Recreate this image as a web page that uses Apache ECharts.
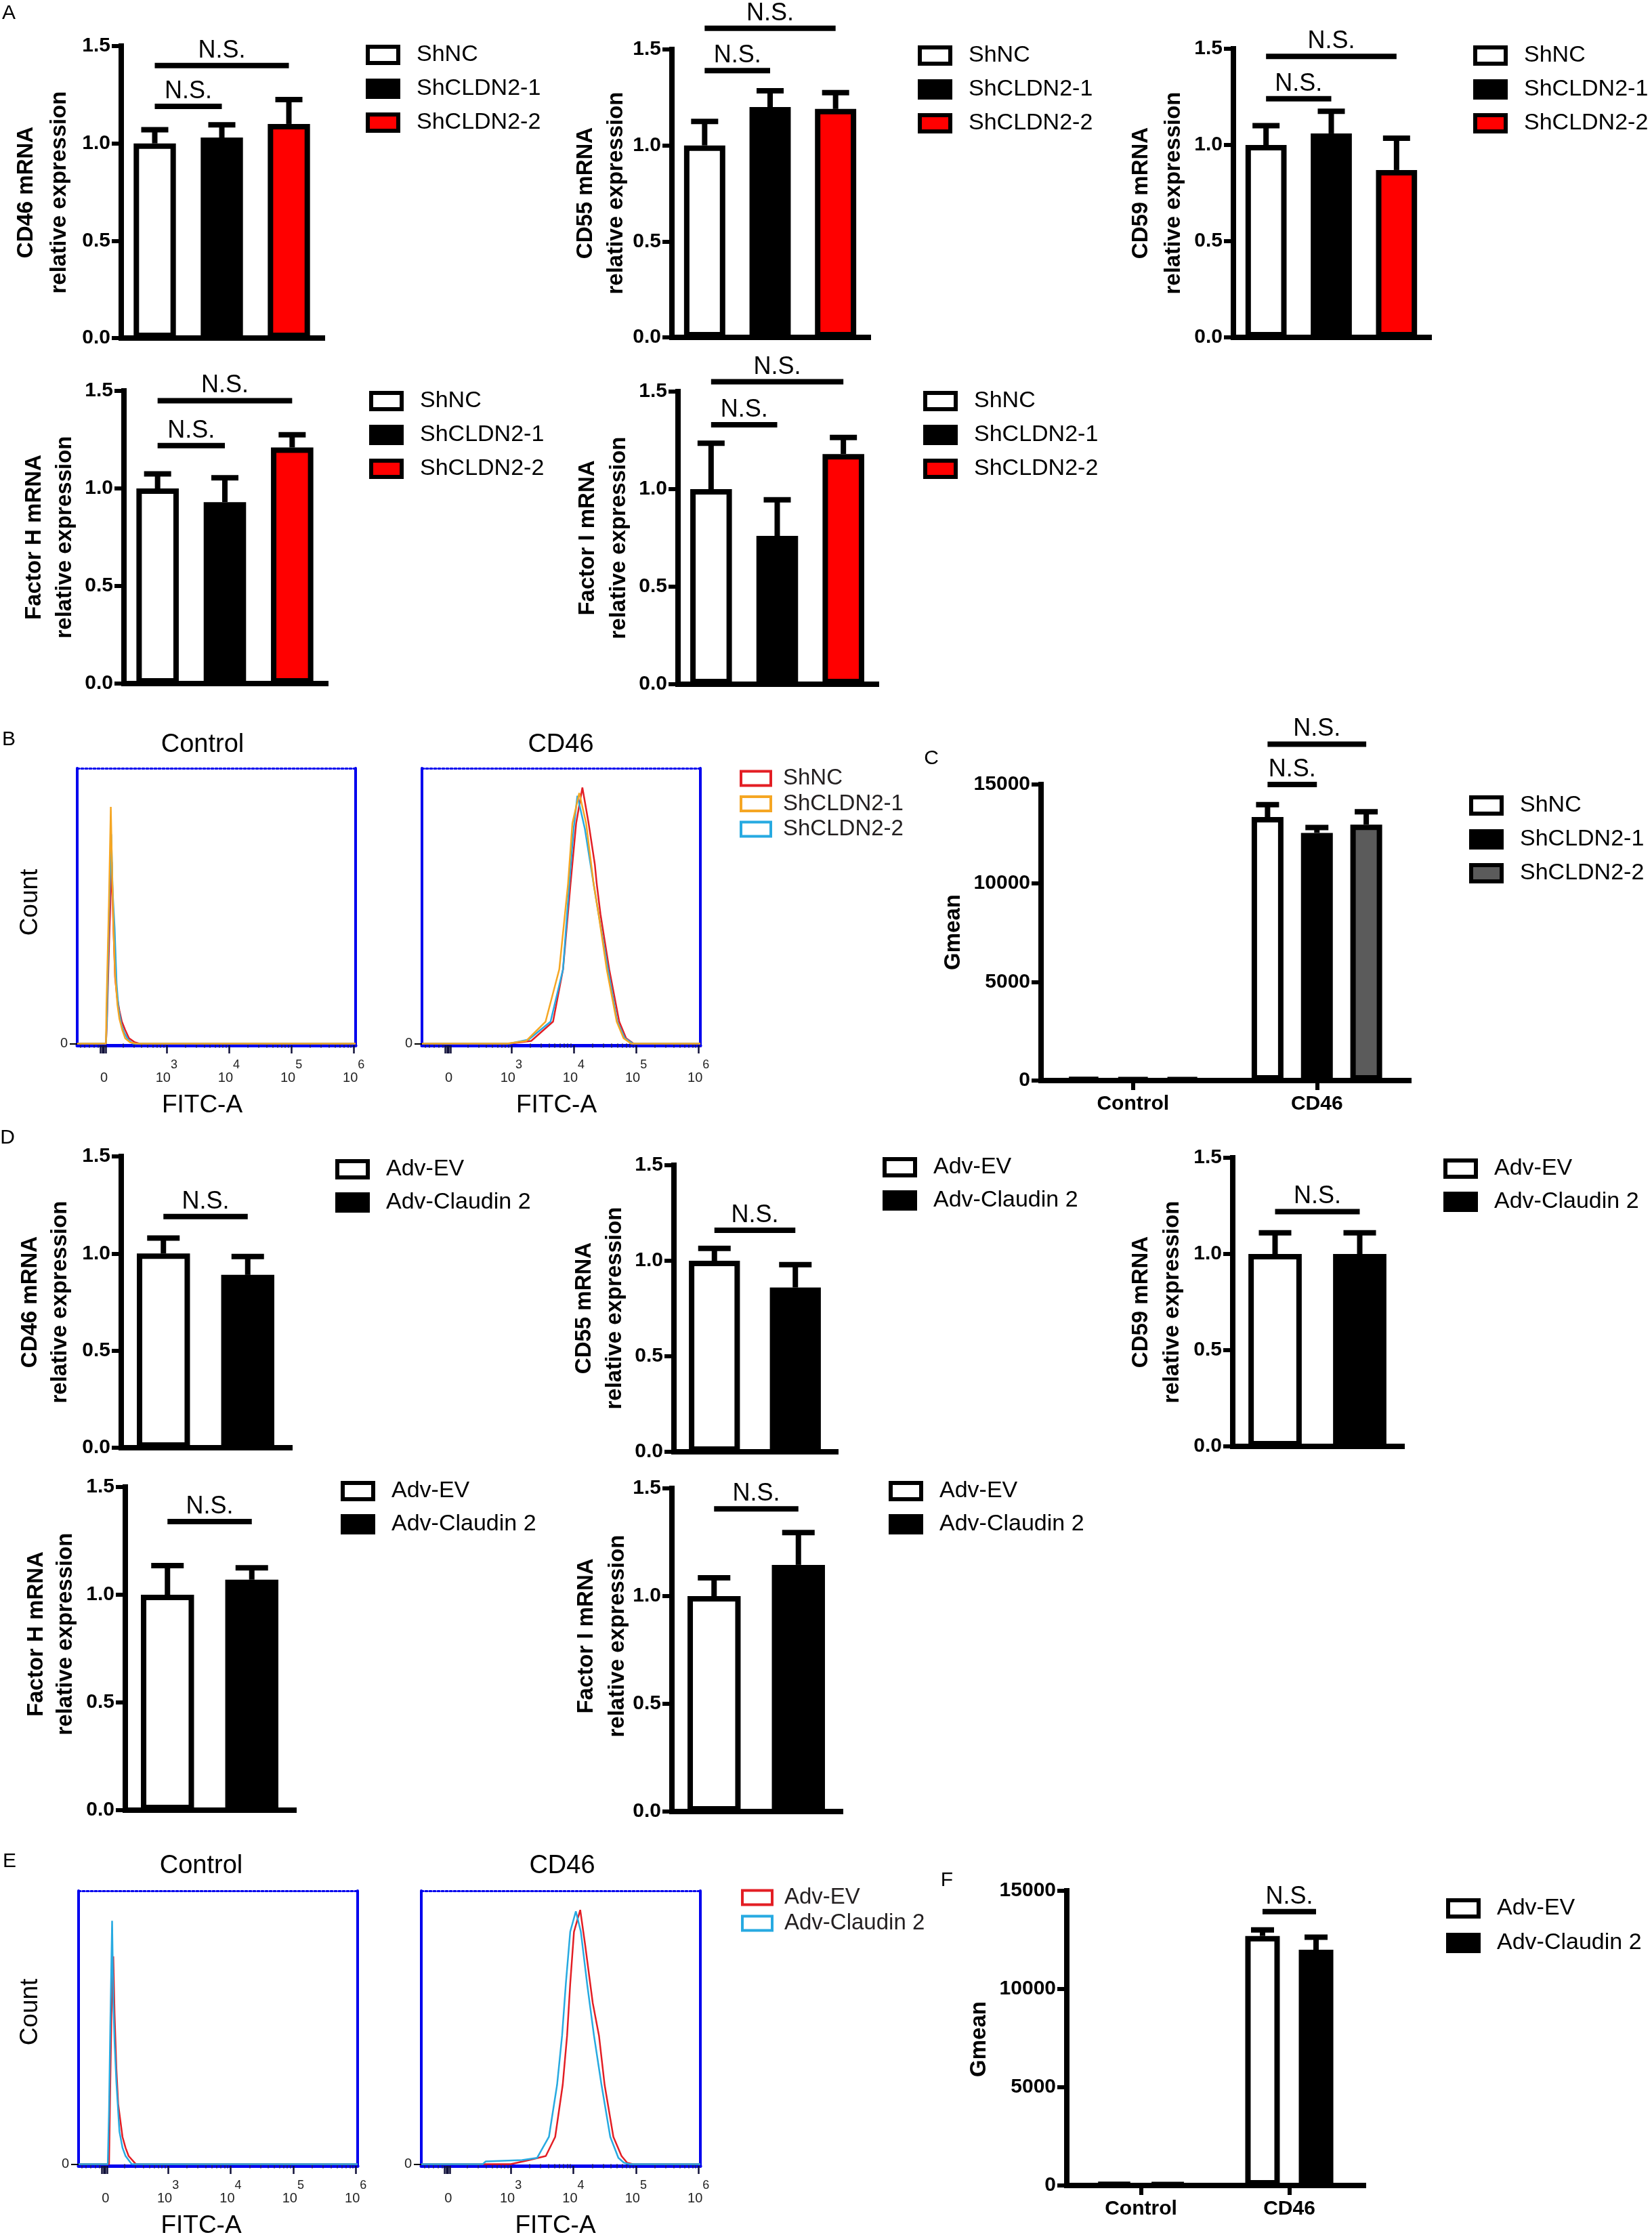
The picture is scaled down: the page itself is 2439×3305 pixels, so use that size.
<!DOCTYPE html>
<html><head><meta charset="utf-8">
<script src="https://cdn.jsdelivr.net/npm/echarts@6/dist/echarts.min.js"></script>
<style>html,body{margin:0;padding:0;background:#fff}#c{width:2439px;height:3305px}</style>
</head><body><div id="c"></div>
<script>
// ================= DATA =================
const shGroups = ['ShNC', 'ShCLDN2-1', 'ShCLDN2-2'];
const advGroups = ['Adv-EV', 'Adv-Claudin 2'];
const gmeanCats = ['Control', 'CD46'];
const relTicks = [0, 0.5, 1.0, 1.5];
const gmeanTicks = [0, 5000, 10000, 15000];
// flow x axis in display decades: 0 -> "0", 1 -> 10^3, 2 -> 10^4 ...
const flowTickPos = [0, 1, 2, 3, 4];
const flowTickBase = ['0', '10', '10', '10', '10'];
const flowTickExp = ['', '3', '4', '5', '6'];

// Panel A (mean, SEM); N.S. brackets [fromBar, toBar, height]
const aCD46Mean = [1.00, 1.03, 1.10], aCD46Sem = [0.07, 0.065, 0.125], aCD46NS = [[0, 1, 1.19], [0, 2, 1.40]];
const aCD55Mean = [1.00, 1.20, 1.19], aCD55Sem = [0.125, 0.085, 0.085], aCD55NS = [[0, 1, 1.39], [0, 2, 1.61]];
const aCD59Mean = [1.00, 1.06, 0.87], aCD59Sem = [0.10, 0.115, 0.165], aCD59NS = [[0, 1, 1.24], [0, 2, 1.46]];
const aFHMean = [1.00, 0.93, 1.21], aFHSem = [0.075, 0.125, 0.065], aFHNS = [[0, 1, 1.22], [0, 2, 1.45]];
const aFIMean = [1.00, 0.76, 1.18], aFISem = [0.235, 0.185, 0.085], aFINS = [[0, 1, 1.33], [0, 2, 1.55]];
// Panel D
const dCD46Mean = [1.00, 0.89], dCD46Sem = [0.08, 0.095], dCD46NS = [[0, 1, 1.19]];
const dCD55Mean = [1.00, 0.86], dCD55Sem = [0.065, 0.12], dCD55NS = [[0, 1, 1.16]];
const dCD59Mean = [1.00, 1.00], dCD59Sem = [0.11, 0.11], dCD59NS = [[0, 1, 1.22]];
const dFHMean = [1.00, 1.07], dFHSem = [0.135, 0.055], dFHNS = [[0, 1, 1.34]];
const dFIMean = [1.00, 1.145], dFISem = [0.085, 0.15], dFINS = [[0, 1, 1.405]];
// Panel C: Gmean [Control, CD46]
const cShNC = [120, 13350], cShNCSem = [0, 630];
const cSh1 = [110, 12550], cSh1Sem = [0, 270];
const cSh2 = [100, 12970], cSh2Sem = [0, 650];
const cNS = [[1, 0, 1, 15000], [1, 0, 2, 17040]]; // [category, fromBar, toBar, height]
// Panel F
const fEV = [120, 12700], fEVSem = [0, 310];
const fCl = [110, 12000], fClSem = [0, 640];
const fNS = [[1, 0, 1, 13940]];

// Flow histograms: [display decade, % of max]
const bCtrlShNC = [[-0.43,0],[0.031,0],[0.046,8],[0.085,40],[0.123,66],[0.146,45],[0.177,24],[0.208,17],[0.246,12],[0.285,8],[0.338,5],[0.4,2],[0.492,0.5],[0.569,0],[4.03,0]];
const bCtrlSh1 = [[-0.43,0],[0.031,0],[0.038,13],[0.077,50],[0.108,86],[0.131,60],[0.154,40],[0.177,25],[0.215,14],[0.246,9],[0.292,5],[0.338,2],[0.415,0.5],[0.515,0],[4.03,0]];
const bCtrlSh2 = [[-0.43,0],[0.031,0],[0.046,10],[0.077,45],[0.115,76],[0.138,55],[0.169,42],[0.2,22],[0.231,13],[0.277,7],[0.323,4],[0.385,1.5],[0.462,0],[4.03,0]];
const bCD46ShNC = [[-0.43,0],[0.97,0],[1.32,1],[1.67,8],[1.83,27],[1.95,58],[2.04,80],[2.14,93],[2.24,80],[2.34,65],[2.37,58],[2.43,47],[2.57,27],[2.73,8],[2.84,2],[2.96,0],[4.03,0]];
const bCD46Sh1 = [[-0.43,0],[0.93,0],[1.24,1],[1.55,8],[1.77,27],[1.91,58],[1.98,80],[2.09,91],[2.20,80],[2.32,58],[2.40,47],[2.53,27],[2.69,8],[2.80,2],[2.92,0],[4.03,0]];
const bCD46Sh2 = [[-0.43,0],[0.97,0],[1.28,1.5],[1.63,8],[1.83,27],[1.93,58],[2.00,78],[2.06,90],[2.18,78],[2.32,58],[2.40,47],[2.55,27],[2.70,8],[2.82,2],[2.95,0],[4.03,0]];
const eCtrlEV = [[-0.43,0],[0.057,0],[0.077,30],[0.096,55],[0.125,76],[0.145,55],[0.174,35],[0.203,22],[0.272,10],[0.321,6],[0.37,3],[0.487,0],[4.03,0]];
const eCtrlCl = [[-0.43,0],[0.037,0],[0.057,20],[0.077,50],[0.106,89],[0.125,60],[0.145,45],[0.174,30],[0.223,12],[0.272,6],[0.321,3],[0.419,0],[4.03,0]];
const eCD46EV = [[-0.43,0],[1.0,0],[1.27,1.4],[1.56,3],[1.71,10],[1.83,29],[1.90,47],[1.95,66],[2.01,85],[2.11,93],[2.19,80],[2.31,59],[2.41,47],[2.50,29],[2.64,10],[2.77,3],[2.86,0.5],[2.95,0],[4.03,0]];
const eCD46Cl = [[-0.43,0],[0.55,0],[0.6,1],[1.18,1.5],[1.42,2.3],[1.61,10],[1.74,29],[1.82,47],[1.88,66],[1.95,85],[2.04,92.5],[2.12,85],[2.22,66],[2.33,47],[2.45,29],[2.59,10],[2.72,2.3],[2.81,0.5],[2.9,0],[4.03,0]];

// ================= STYLE / LAYOUT =================
const FONT = '"Liberation Sans", Arial, Helvetica, sans-serif';
const BLUE = '#0000ee';
const RED = '#e31e24', ORANGE = '#f5a623', CYAN = '#27aae1';
const FLOW_MIN = -0.43, FLOW_MAX = 4.03;
const flowMajorTicks = [-0.06, -0.03, 0, 0.03, 1, 2, 3, 4];
const flowMinorTicks = [-0.38, -0.31, -0.24, -0.16, -0.1];
[0, 1, 2, 3].forEach(d => { for (let k = 2; k <= 9; k++) flowMinorTicks.push(d + Math.log10(k)); });

const option = {backgroundColor: '#fff', animation: false, grid: [], xAxis: [], yAxis: [], series: [], legend: [], graphic: {elements: []}};

function addGrid(b) { option.grid.push({left: b[0], top: b[2], width: b[1] - b[0], height: b[3] - b[2]}); return option.grid.length - 1; }

function txt(x, y, text, size, o) {
  o = o || {};
  option.graphic.elements.push({type: 'text', x, y, rotation: o.rot ? Math.PI / 2 : 0, silent: true,
    style: {text, fontSize: size, fontWeight: o.bold ? 'bold' : 'normal', fontFamily: FONT, fill: o.color || '#000',
      align: 'center', verticalAlign: 'middle', textAlign: 'center', textVerticalAlign: 'middle'}});
}

function valueAxis(g, ticks, fmt) {
  return {gridIndex: g, type: 'value', min: ticks[0], max: ticks[ticks.length - 1], interval: ticks[1] - ticks[0],
    splitLine: {show: false},
    axisLine: {show: true, onZero: false, lineStyle: {color: '#000', width: 8, cap: 'square'}},
    axisTick: {show: true, length: 14, lineStyle: {color: '#000', width: 6}},
    axisLabel: {show: true, margin: 16, formatter: fmt, fontSize: 30, fontWeight: 'bold', fontFamily: FONT, color: '#000'}};
}

function errSeries(xi, yi, data, cap, offset) {
  return {type: 'custom', xAxisIndex: xi, yAxisIndex: yi, silent: true, clip: false, z: 5, data,
    renderItem(params, api) {
      const cat = api.value(0), m = api.value(1), s = api.value(2);
      if (!(s > 0)) return null;
      const p0 = api.coord([cat, m]), p1 = api.coord([cat, m + s]);
      const x = p0[0] + offset;
      return {type: 'group', children: [
        {type: 'line', shape: {x1: x, y1: p0[1], x2: x, y2: p1[1]}, style: {stroke: '#000', lineWidth: 8}},
        {type: 'line', shape: {x1: x - cap / 2, y1: p1[1], x2: x + cap / 2, y2: p1[1]}, style: {stroke: '#000', lineWidth: 8}}
      ]};
    }};
}

function nsSeries(xi, yi, data, nBars, spacing) {
  return {type: 'custom', xAxisIndex: xi, yAxisIndex: yi, silent: true, clip: false, z: 6, data,
    renderItem(params, api) {
      const y = api.value(4);
      const p1 = api.coord([api.value(0), y]), p2 = api.coord([api.value(2), y]);
      const x1 = p1[0] + (api.value(1) - (nBars - 1) / 2) * spacing;
      const x2 = p2[0] + (api.value(3) - (nBars - 1) / 2) * spacing;
      return {type: 'group', children: [
        {type: 'line', shape: {x1, y1: p1[1], x2, y2: p1[1]}, style: {stroke: '#000', lineWidth: 8}},
        {type: 'text', x: (x1 + x2) / 2, y: p1[1] - 4, style: {text: 'N.S.', fontSize: 36, fontFamily: FONT, fill: '#000',
          align: 'center', verticalAlign: 'bottom', textAlign: 'center', textVerticalAlign: 'bottom'}}
      ]};
    }};
}

function addLegend(names, styles, left, rowCenter, spacing, kind) {
  const k = kind === 'flow'
    ? {w: 44, h: 21, bw: 4, fs: 33, pad: 13, color: '#231f20'}
    : {w: 45, h: 24, bw: 6, fs: 34, pad: 22, color: '#000'};
  option.legend.push({left, top: rowCenter - k.fs / 2, orient: 'vertical', padding: 0, itemGap: spacing - k.fs,
    itemWidth: k.w, itemHeight: k.h, icon: 'rect', selectedMode: false,
    itemStyle: {borderWidth: k.bw},
    textStyle: {fontSize: k.fs, fontFamily: FONT, color: k.color, lineHeight: 30, padding: [0, 0, 0, k.pad]},
    data: names.map((n, i) => ({name: n, icon: 'rect', itemStyle: Object.assign({borderWidth: k.bw}, styles[i])}))});
}

const barStyles = {
  sh: [{color: '#fff', borderColor: '#000'}, {color: '#000', borderColor: '#000'}, {color: '#ff0000', borderColor: '#000'}],
  adv: [{color: '#fff', borderColor: '#000'}, {color: '#000', borderColor: '#000'}],
  shC: [{color: '#fff', borderColor: '#000'}, {color: '#000', borderColor: '#000'}, {color: '#5b5b5b', borderColor: '#000'}],
  flowSh: [{color: '#fff', borderColor: RED}, {color: '#fff', borderColor: ORANGE}, {color: '#fff', borderColor: CYAN}],
  flowAdv: [{color: '#fff', borderColor: RED}, {color: '#fff', borderColor: CYAN}]
};

function relChart(o) {
  const g = addGrid(o.box);
  const xi = option.xAxis.length, yi = option.yAxis.length;
  option.xAxis.push({gridIndex: g, type: 'category', data: o.groups, boundaryGap: true,
    axisLine: {show: true, lineStyle: {color: '#000', width: 8, cap: 'square'}},
    axisTick: {show: false}, axisLabel: {show: false}, splitLine: {show: false}});
  option.yAxis.push(valueAxis(g, relTicks, v => v.toFixed(1)));
  o.groups.forEach((name, i) => option.series.push({type: 'bar', name, xAxisIndex: xi, yAxisIndex: yi,
    barWidth: '63%', barGap: '-100%', silent: true,
    data: o.groups.map((_, j) => j === i ? o.mean[i] : '-'),
    itemStyle: Object.assign({borderWidth: 8}, o.styles[i])}));
  option.series.push(errSeries(xi, yi, o.mean.map((m, i) => [i, m, o.sem[i]]), o.cap, 0));
  option.series.push(nsSeries(xi, yi, o.ns.map(d => [d[0], 0, d[1], 0, d[2]]), 1, 0));
  addLegend(o.groups, o.styles, o.leg[0], o.leg[1], o.leg[2], 'bar');
  const [t1, t2] = o.title;
  txt(o.tx[0], o.tx[2], t1, 33, {bold: true, rot: true});
  txt(o.tx[1], o.tx[2], t2, 33, {bold: true, rot: true});
}

function gmeanChart(o) {
  const g = addGrid(o.box);
  const xi = option.xAxis.length, yi = option.yAxis.length;
  option.xAxis.push({gridIndex: g, type: 'category', data: gmeanCats, boundaryGap: true,
    axisLine: {show: true, lineStyle: {color: '#000', width: 8, cap: 'square'}},
    axisTick: {show: true, alignWithLabel: true, length: 14, lineStyle: {color: '#000', width: 6}},
    axisLabel: {show: true, margin: 20, fontSize: 30, fontWeight: 'bold', fontFamily: FONT, color: '#000'},
    splitLine: {show: false}});
  option.yAxis.push(valueAxis(g, gmeanTicks, v => String(v)));
  const n = o.groups.length, spacing = o.barW * (1 + o.gap);
  o.groups.forEach((name, i) => {
    option.series.push({type: 'bar', name, xAxisIndex: xi, yAxisIndex: yi, barWidth: o.barW, barGap: (o.gap * 100) + '%',
      silent: true, data: o.values[i], itemStyle: Object.assign({borderWidth: 8}, o.styles[i])});
  });
  o.groups.forEach((name, i) => {
    option.series.push(errSeries(xi, yi, o.values[i].map((v, c) => [c, v, o.sems[i][c]]), o.cap, (i - (n - 1) / 2) * spacing));
  });
  option.series.push(nsSeries(xi, yi, o.ns.map(d => [d[0], d[1], d[0], d[2], d[3]]), n, spacing));
  addLegend(o.groups, o.styles, o.leg[0], o.leg[1], o.leg[2], 'bar');
  txt(o.tx[0], o.tx[1], 'Gmean', 33, {bold: true, rot: true});
}

function flowChart(o) {
  const g = addGrid(o.box);
  const xi = option.xAxis.length, yi = option.yAxis.length;
  const xb = {gridIndex: g, type: 'value', min: FLOW_MIN, max: FLOW_MAX, splitLine: {show: false}};
  option.xAxis.push(Object.assign({}, xb, {position: 'bottom',
    axisLine: {show: true, onZero: false, lineStyle: {color: BLUE, width: 5}},
    axisTick: {show: true, customValues: flowMajorTicks, length: 12, lineStyle: {color: '#10103a', width: 2.5}},
    axisLabel: {show: true, customValues: flowTickPos, margin: 20,
      formatter: v => { const i = flowTickPos.indexOf(v); return flowTickExp[i] ? '{b|' + flowTickBase[i] + '}{s|' + flowTickExp[i] + '}' : '{b|' + flowTickBase[i] + '}'; },
      rich: {b: {fontSize: 20, fontFamily: FONT, color: '#222', lineHeight: 38, verticalAlign: 'bottom'},
             s: {fontSize: 18, fontFamily: FONT, color: '#222', lineHeight: 38, verticalAlign: 'top'}}},
    name: 'FITC-A', nameLocation: 'middle', nameGap: 70,
    nameTextStyle: {fontSize: 37, fontFamily: FONT, color: '#000', padding: [0, o.nameShift * 2, 0, 0]}}));
  option.xAxis.push(Object.assign({}, xb, {position: 'bottom', axisLine: {show: false},
    axisTick: {show: true, customValues: flowMinorTicks, length: 6, lineStyle: {color: '#1a1a80', width: 2}},
    axisLabel: {show: false}}));
  option.xAxis.push(Object.assign({}, xb, {position: 'top',
    axisLine: {show: true, onZero: false, lineStyle: {color: BLUE, width: 3, type: [3, 3]}},
    axisTick: {show: false}, axisLabel: {show: false}}));
  const yb = {gridIndex: g, type: 'value', min: -0.6, max: 100, splitLine: {show: false}};
  option.yAxis.push(Object.assign({}, yb, {position: 'left',
    axisLine: {show: true, onZero: false, lineStyle: {color: BLUE, width: 4}},
    axisTick: {show: true, customValues: [0], length: 11, lineStyle: {color: '#000', width: 2}},
    axisLabel: {show: true, customValues: [0], margin: 14, fontSize: 20, fontFamily: FONT, color: '#222'}}));
  option.yAxis.push(Object.assign({}, yb, {position: 'right',
    axisLine: {show: true, onZero: false, lineStyle: {color: BLUE, width: 4}},
    axisTick: {show: false}, axisLabel: {show: false}}));
  o.curves.forEach(c => option.series.push({type: 'line', name: c[0], xAxisIndex: xi, yAxisIndex: yi, data: c[2],
    symbol: 'none', showSymbol: false, silent: true, z: 3, lineStyle: {color: c[1], width: 2.5}, itemStyle: {color: c[1]}}));
  txt(o.titleXY[0], o.titleXY[1], o.title, 38);
}

// ================= PANEL A =================
relChart({box: [179, 476, 68, 499], groups: shGroups, mean: aCD46Mean, sem: aCD46Sem, ns: aCD46NS, styles: barStyles.sh, cap: 40,
  leg: [540, 81, 50], title: ['CD46 mRNA', 'relative expression'], tx: [39, 88, 284]});
relChart({box: [992, 1282, 73, 498], groups: shGroups, mean: aCD55Mean, sem: aCD55Sem, ns: aCD55NS, styles: barStyles.sh, cap: 40,
  leg: [1355, 82, 50], title: ['CD55 mRNA', 'relative expression'], tx: [865, 910, 285]});
relChart({box: [1821, 2110, 72, 498], groups: shGroups, mean: aCD59Mean, sem: aCD59Sem, ns: aCD59NS, styles: barStyles.sh, cap: 40,
  leg: [2175, 82, 50], title: ['CD59 mRNA', 'relative expression'], tx: [1685, 1733, 285]});
relChart({box: [183, 481, 577, 1009], groups: shGroups, mean: aFHMean, sem: aFHSem, ns: aFHNS, styles: barStyles.sh, cap: 40,
  leg: [545, 592, 50], title: ['Factor H mRNA', 'relative expression'], tx: [51, 96, 793]});
relChart({box: [1001, 1294, 578, 1010], groups: shGroups, mean: aFIMean, sem: aFISem, ns: aFINS, styles: barStyles.sh, cap: 40,
  leg: [1363, 592, 50], title: ['Factor I mRNA', 'relative expression'], tx: [868, 914, 794]});

// ================= PANEL B =================
flowChart({box: [114, 525, 1134, 1543], title: 'Control', titleXY: [299, 1100], nameShift: 21,
  curves: [['ShNC', RED, bCtrlShNC], ['ShCLDN2-2', CYAN, bCtrlSh2], ['ShCLDN2-1', ORANGE, bCtrlSh1]]});
flowChart({box: [623, 1034, 1134, 1543], title: 'CD46', titleXY: [828, 1100], nameShift: 7,
  curves: [['ShNC', RED, bCD46ShNC], ['ShCLDN2-2', CYAN, bCD46Sh2], ['ShCLDN2-1', ORANGE, bCD46Sh1]]});
addLegend(shGroups, barStyles.flowSh, 1092, 1149, 37.5, 'flow');
txt(45, 1332, 'Count', 37, {rot: true});

// ================= PANEL C =================
gmeanChart({box: [1537, 2080, 1158, 1595], groups: shGroups, values: [cShNC, cSh1, cSh2], sems: [cShNCSem, cSh1Sem, cSh2Sem],
  ns: cNS, styles: barStyles.shC, barW: 47, gap: 0.55, cap: 34, leg: [2169, 1189, 50], tx: [1408, 1376]});

// ================= PANEL D =================
relChart({box: [179, 428, 1707, 2137], groups: advGroups, mean: dCD46Mean, sem: dCD46Sem, ns: dCD46NS, styles: barStyles.adv, cap: 48,
  leg: [495, 1726, 49], title: ['CD46 mRNA', 'relative expression'], tx: [45, 89, 1922]});
relChart({box: [995, 1234, 1720, 2143], groups: advGroups, mean: dCD55Mean, sem: dCD55Sem, ns: dCD55NS, styles: barStyles.adv, cap: 48,
  leg: [1303, 1723, 49], title: ['CD55 mRNA', 'relative expression'], tx: [863, 908, 1931]});
relChart({box: [1820, 2070, 1709, 2135], groups: advGroups, mean: dCD59Mean, sem: dCD59Sem, ns: dCD59NS, styles: barStyles.adv, cap: 48,
  leg: [2131, 1725, 49], title: ['CD59 mRNA', 'relative expression'], tx: [1685, 1731, 1922]});
relChart({box: [185, 434, 2195, 2672], groups: advGroups, mean: dFHMean, sem: dFHSem, ns: dFHNS, styles: barStyles.adv, cap: 48,
  leg: [503, 2201, 49], title: ['Factor H mRNA', 'relative expression'], tx: [54, 97, 2412]});
relChart({box: [992, 1241, 2197, 2674], groups: advGroups, mean: dFIMean, sem: dFISem, ns: dFINS, styles: barStyles.adv, cap: 48,
  leg: [1312, 2201, 49], title: ['Factor I mRNA', 'relative expression'], tx: [866, 912, 2415]});

// ================= PANEL E =================
flowChart({box: [116, 528, 2791, 3203], title: 'Control', titleXY: [297, 2755], nameShift: 25,
  curves: [['Adv-EV', RED, eCtrlEV], ['Adv-Claudin 2', CYAN, eCtrlCl]]});
flowChart({box: [622, 1034, 2791, 3203], title: 'CD46', titleXY: [830, 2755], nameShift: 8,
  curves: [['Adv-EV', RED, eCD46EV], ['Adv-Claudin 2', CYAN, eCD46Cl]]});
addLegend(advGroups, barStyles.flowAdv, 1094, 2801, 38, 'flow');
txt(45, 2970, 'Count', 37, {rot: true});

// ================= PANEL F =================
gmeanChart({box: [1575, 2013, 2791, 3226], groups: advGroups, values: [fEV, fCl], sems: [fEVSem, fClSem],
  ns: fNS, styles: barStyles.adv, barW: 51, gap: 0.55, cap: 34, leg: [2135, 2817, 51], tx: [1446, 3010]});

// ================= PANEL LETTERS =================
txt(13, 20, 'A', 30); txt(13, 1092, 'B', 30); txt(1375, 1120, 'C', 30);
txt(11, 1680, 'D', 30); txt(14, 2748, 'E', 30); txt(1398, 2776, 'F', 30);

const chart = echarts.init(document.getElementById('c'), null, {renderer: 'canvas', width: 2439, height: 3305});
chart.setOption(option);
</script>
</body></html>
